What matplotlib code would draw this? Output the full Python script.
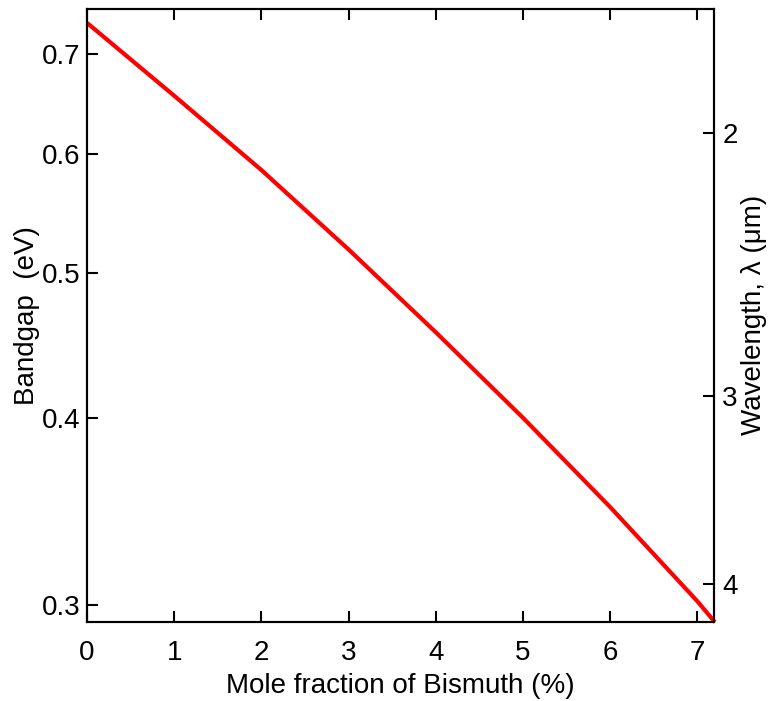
import numpy as np
import matplotlib
matplotlib.use("Agg")
import matplotlib.pyplot as plt
from matplotlib.ticker import FixedLocator, NullLocator

plt.rcParams['font.family'] = ['Liberation Sans', 'DejaVu Sans']

# bandgap
bi_frac = [0, 1, 2, 3, 4, 5, 6, 7, 7.2]
bandgap = [0.7340, 0.6562, 0.5854, 0.5181, 0.4562, 0.4000, 0.3487, 0.3017, 0.2922]

x_ticks = [0, 1, 2, 3, 4, 5, 6, 7]
e_ticks = [0.3, 0.4, 0.5, 0.6, 0.7]
wl_ticks = [2, 3, 4]

fig = plt.figure(figsize=(7.69, 7.01), dpi=100)
ax = fig.add_axes([0.1131, 0.1131, 0.8154, 0.8741])

ax.plot(bi_frac, bandgap, color='#ff0000', lw=3, solid_capstyle='butt', clip_on=False, zorder=5)

ax.set_yscale('log')
ax.set_xlim(0, 7.19)
ax.set_ylim(0.2924, 0.7498)
ax.yaxis.set_major_locator(FixedLocator(e_ticks))
ax.yaxis.set_minor_locator(NullLocator())
ax.set_yticklabels([str(v) for v in e_ticks])
ax.set_xticks(x_ticks)

ax.tick_params(axis='x', direction='in', length=8, width=1.5, top=True, labelsize=20, pad=13)
ax.tick_params(axis='y', direction='in', length=8, width=1.5, right=False, labelsize=20, pad=5)
for s in ax.spines.values():
    s.set_linewidth(1.5)

ax.set_xlabel('Mole fraction of Bismuth (%)', fontsize=20, labelpad=5)
ax.set_ylabel('Bandgap  (eV)', fontsize=20, labelpad=1)

# wavelength axis: lambda = 1.24 / E
ax2 = ax.twinx()
ax2.set_yscale('log')
ax2.set_ylim(ax.get_ylim())
ax2.yaxis.set_major_locator(FixedLocator([1.24 / w for w in wl_ticks]))
ax2.yaxis.set_minor_locator(NullLocator())
ax2.set_yticklabels([str(w) for w in wl_ticks])
ax2.tick_params(axis='y', direction='in', length=8, width=1.5, labelsize=20, pad=6)
ax2.set_ylabel('Wavelength, λ (μm)', fontsize=20, labelpad=2)
for s in ax2.spines.values():
    s.set_linewidth(1.5)

fig.savefig('out.png', dpi=100)
